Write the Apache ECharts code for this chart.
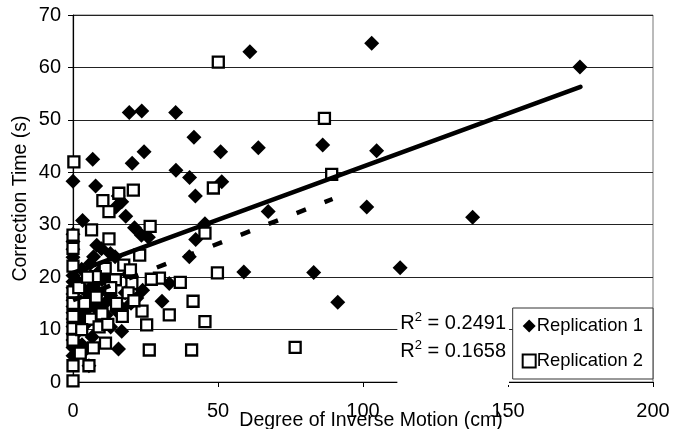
<!DOCTYPE html>
<html>
<head>
<meta charset="utf-8">
<script src="https://cdn.jsdelivr.net/npm/echarts@6/dist/echarts.min.js"></script>
<style>html,body{margin:0;padding:0;background:#fff;}#c{width:683px;height:429px;}</style>
</head>
<body>
<div id="c"></div>
<script>
// Replication 1 (diamonds): [x, y]
const rep1 = [
  [61,63],[103,64.6],[174.8,60.1],[19.4,51.4],[23.7,51.7],[35.4,51.4],[41.7,46.7],[50.9,43.9],[24.5,43.9],[20.4,41.7],
  [6.8,42.5],[63.9,44.7],[86.1,45.2],[104.7,44.1],[35.5,40.4],[40.2,39.0],[0,38.3],[51.3,38.2],[7.8,37.4],[42.2,35.5],
  [15.6,35.5],[16.8,34.4],[14.8,33.4],[18.2,31.6],[3.3,30.8],[67.3,32.5],[101.3,33.4],[137.8,31.4],[45.5,30.2],[21.2,29.4],
  [23.6,28.0],[26,27.6],[42.3,27.2],[40.1,23.9],[8.2,26.1],[9.8,25.4],[12.9,24.5],[14.5,23.9],[7.1,23.9],[6,22.6],
  [8.9,21.0],[58.9,21.0],[83,20.9],[112.8,21.8],[33.2,18.8],[30.7,15.4],[91.3,15.2],[16.8,9.7],[15.7,6.3],[11.4,12.8],
  [15,13.6],[6.6,8.6],[3.1,7.1],[5.5,3.1],[4.2,10.9],[3.8,13.4],
  [0,28.2],[0,26.8],[0,25.3],[0,23.8],[0,20.3],[0,19.1],[0,18],[0,16.8],[0,15.6],[0,14.4],[0,13.2],[0,12],[0,10.6],
  [0,9.2],[0,8],[0,6.6],[0,5],
  [2,19],[4,17.5],[5.2,16],[7,18.5],[9,17],[11,15],[13,16.5],[18,17],[20,15],[22,16],[10,19.5],[6,14.5],[2.5,12],
  [12,20],[17,14],[3,21.5],[8,14],[19,20.5],[24,17.5],[1.5,9.5],[4,6],[9,11.5],[13,10.5]
];
// Replication 2 (squares): [x, y]
const rep2 = [
  [50.1,61],[0.3,42],[86.7,50.3],[48.4,37],[89.2,39.6],[20.8,36.6],[15.8,36],[10.3,34.6],[12.4,32.5],[6.4,29],
  [26.6,29.7],[45.5,28.4],[12.4,27.3],[0,22.1],[23,24.2],[17.5,22.3],[11.1,21.7],[19.8,21.4],[49.8,20.8],[29.8,19.8],
  [37,19],[41.4,15.4],[33.2,12.8],[45.5,11.5],[23.8,13.5],[25.4,10.9],[26.3,6.1],[40.9,6.1],[11.2,7.4],[5.5,3.1],
  [0,3.1],[0,0.2],[76.6,6.6],[7.7,20.1],[14.6,19.5],[20.3,18.8],[27,19.6],
  [0,28],[0,25.5],[0,17.2],[0,15],[0,12.5],[0,10.2],[0,8],[2,18],[4,15],[6,12],[8,16.2],[10,13],[13,18],[15,15],
  [17,12.5],[19,17],[21,15.5],[3,10],[5,20],[9,10.5],[12,11],[2.5,5.5],[7,6.5]
];
// Linear trend lines (endpoints)
const trend1 = [[0,20.8],[175,56.3]];
const trend2 = [[0,15.6],[89.5,34.9]];
const seriesNames = ['Replication 1','Replication 2'];
const r2Labels = ['0.2491','0.1658'];
const xTitle = 'Degree of Inverse Motion (cm)';
const yTitle = 'Correction Time (s)';

const FONT = '"Liberation Sans", Arial, Helvetica, sans-serif';
const chart = echarts.init(document.getElementById('c'), null, {renderer:'canvas'});
const r2Text = v => ({
  type:'text',
  style:{
    text:'{a|R}{s|2}{a| = ' + v + '}',
    rich:{
      a:{fontSize:20, fontFamily:FONT, fill:'#000', lineHeight:22, verticalAlign:'bottom'},
      s:{fontSize:13, fontFamily:FONT, fill:'#000', lineHeight:22, verticalAlign:'top'}
    },
    align:'right', verticalAlign:'middle',
    backgroundColor:'#fff'
  }
});
const g1 = r2Text(r2Labels[0]); g1.x = 509; g1.y = 324; g1.style.padding=[2,3,6,3]; g1.z = 100;
const g2 = r2Text(r2Labels[1]); g2.x = 509; g2.y = 361; g2.style.padding=[2,3,24,3]; g2.z = 100;

chart.setOption({
  animation:false,
  backgroundColor:'#fff',
  textStyle:{fontFamily:FONT},
  grid:{left:73, right:30, top:15, bottom:47, show:true, borderColor:'#777', borderWidth:1,
        backgroundColor:'transparent', containLabel:false, outerBoundsMode:'none'},
  xAxis:{
    type:'value', min:0, max:200, interval:50,
    name:xTitle, nameLocation:'middle', nameGap:29, nameMoveOverlap:false,
    nameTextStyle:{fontSize:19.5, color:'#000', fontFamily:FONT, padding:[0,0,0,16]},
    axisLine:{show:true, onZero:false, lineStyle:{color:'#000', width:1.2}},
    axisTick:{show:true, length:5, inside:false, lineStyle:{color:'#000'}},
    axisLabel:{fontSize:20, color:'#000', margin:19, fontFamily:FONT},
    splitLine:{show:false}
  },
  yAxis:{
    type:'value', min:0, max:70, interval:10,
    name:yTitle, nameLocation:'middle', nameGap:42, nameMoveOverlap:false,
    nameTextStyle:{fontSize:19.5, color:'#000', fontFamily:FONT},
    axisLine:{show:true, onZero:false, lineStyle:{color:'#000', width:1.2}},
    axisTick:{show:true, length:5, lineStyle:{color:'#000'}},
    axisLabel:{fontSize:20, color:'#000', margin:12, fontFamily:FONT},
    splitLine:{show:true, lineStyle:{color:'#222', width:1}}
  },
  legend:{
    data:seriesNames,
    orient:'vertical', right:30, bottom:50,
    backgroundColor:'#fff', borderColor:'#333', borderWidth:1,
    padding:[9,10,9,9], itemGap:17, itemWidth:13, itemHeight:13,
    textStyle:{fontSize:18.4, color:'#000', fontFamily:FONT, padding:[0,0,0,-4]},
    z:200
  },
  graphic:[g1,g2],
  series:[
    {name:seriesNames[0], type:'scatter', data:rep1, symbol:'diamond', symbolSize:15, clip:false,
     itemStyle:{color:'#000', opacity:1}, z:3},
    {name:seriesNames[1], type:'scatter', data:rep2, symbol:'rect', symbolSize:11, clip:false,
     itemStyle:{color:'#fff', borderColor:'#000', borderWidth:2.3, opacity:1}, z:4},
    {type:'line', data:trend1, symbol:'none', lineStyle:{color:'#000', width:4.5, cap:'round'}, z:5, silent:true},
    {type:'line', data:trend2, symbol:'none', lineStyle:{color:'#000', width:4.5, type:[10,20]}, z:5, silent:true}
  ]
});
</script>
</body>
</html>
